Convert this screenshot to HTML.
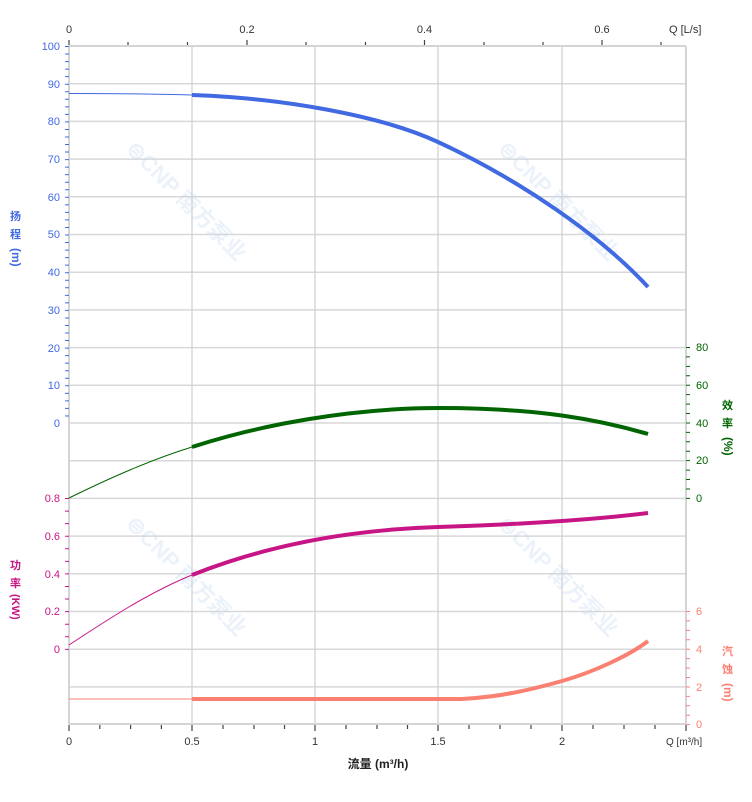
<!DOCTYPE html>
<html><head><meta charset="utf-8"><style>
body{margin:0;background:#fff}
svg text{font-family:"Liberation Sans","Noto Sans CJK SC",sans-serif;font-size:11px}
</style></head><body>
<svg width="752" height="797" viewBox="0 0 752 797" xmlns="http://www.w3.org/2000/svg">
<g stroke="#d8d8d8" stroke-width="1.5">
<line x1="69" y1="83.7" x2="686" y2="83.7"/><line x1="69" y1="121.4" x2="686" y2="121.4"/><line x1="69" y1="159.1" x2="686" y2="159.1"/><line x1="69" y1="196.8" x2="686" y2="196.8"/><line x1="69" y1="234.5" x2="686" y2="234.5"/><line x1="69" y1="272.2" x2="686" y2="272.2"/><line x1="69" y1="309.9" x2="686" y2="309.9"/><line x1="69" y1="347.6" x2="686" y2="347.6"/><line x1="69" y1="385.3" x2="686" y2="385.3"/><line x1="69" y1="423" x2="686" y2="423"/><line x1="69" y1="460.7" x2="686" y2="460.7"/><line x1="69" y1="498.4" x2="686" y2="498.4"/><line x1="69" y1="536.1" x2="686" y2="536.1"/><line x1="69" y1="573.8" x2="686" y2="573.8"/><line x1="69" y1="611.5" x2="686" y2="611.5"/><line x1="69" y1="649.2" x2="686" y2="649.2"/><line x1="69" y1="686.9" x2="686" y2="686.9"/>
</g>
<g stroke="#cfcfcf" stroke-width="1.2">
<line x1="192" y1="46" x2="192" y2="724"/><line x1="315" y1="46" x2="315" y2="724"/><line x1="438" y1="46" x2="438" y2="724"/><line x1="562" y1="46" x2="562" y2="724"/>
</g>
<g stroke="#d4d4d4" stroke-width="2" fill="none">
<line x1="69" y1="46" x2="686" y2="46"/><line x1="69" y1="724" x2="686" y2="724"/><line x1="69" y1="46" x2="69" y2="724"/><line x1="686" y1="46" x2="686" y2="724"/>
</g>
<g fill="#bcd3ee" opacity="0.3" font-weight="bold">
<text transform="translate(125,150) rotate(45)" style="font-size:22px">⊜CNP 南方泵业</text>
<text transform="translate(497,150) rotate(45)" style="font-size:22px">⊜CNP 南方泵业</text>
<text transform="translate(125,525) rotate(45)" style="font-size:22px">⊜CNP 南方泵业</text>
<text transform="translate(497,525) rotate(45)" style="font-size:22px">⊜CNP 南方泵业</text>
</g>
<line x1="67" y1="46" x2="67" y2="423" stroke="#4169e1" stroke-width="4" stroke-dasharray="1 6.54"/>
<line x1="67" y1="498" x2="67" y2="650" stroke="#c71585" stroke-width="4" stroke-dasharray="1 11.57"/>
<line x1="688" y1="347" x2="688" y2="499" stroke="#006400" stroke-width="4" stroke-dasharray="1 8.43"/>
<line x1="688" y1="611" x2="688" y2="725" stroke="#fa8072" stroke-width="4" stroke-dasharray="1 8.43"/>
<g stroke="#444" stroke-width="1.2">
<line x1="69" y1="725" x2="69" y2="731"/><line x1="99.8" y1="725" x2="99.8" y2="729"/><line x1="130.6" y1="725" x2="130.6" y2="729"/><line x1="161.4" y1="725" x2="161.4" y2="729"/><line x1="192" y1="725" x2="192" y2="731"/><line x1="223" y1="725" x2="223" y2="729"/><line x1="254" y1="725" x2="254" y2="729"/><line x1="284.5" y1="725" x2="284.5" y2="729"/><line x1="315" y1="725" x2="315" y2="731"/><line x1="346" y1="725" x2="346" y2="729"/><line x1="377" y1="725" x2="377" y2="729"/><line x1="407.5" y1="725" x2="407.5" y2="729"/><line x1="438" y1="725" x2="438" y2="731"/><line x1="469" y1="725" x2="469" y2="729"/><line x1="500" y1="725" x2="500" y2="729"/><line x1="531" y1="725" x2="531" y2="729"/><line x1="562" y1="725" x2="562" y2="731"/><line x1="593" y1="725" x2="593" y2="729"/><line x1="624" y1="725" x2="624" y2="729"/><line x1="655" y1="725" x2="655" y2="729"/><line x1="686" y1="725" x2="686" y2="731"/>
<line x1="69" y1="40" x2="69" y2="45"/><line x1="128" y1="42" x2="128" y2="45"/><line x1="187.5" y1="42" x2="187.5" y2="45"/><line x1="247" y1="40" x2="247" y2="45"/><line x1="306" y1="42" x2="306" y2="45"/><line x1="365.5" y1="42" x2="365.5" y2="45"/><line x1="424.5" y1="40" x2="424.5" y2="45"/><line x1="484" y1="42" x2="484" y2="45"/><line x1="543" y1="42" x2="543" y2="45"/><line x1="602" y1="40" x2="602" y2="45"/><line x1="661" y1="42" x2="661" y2="45"/>
</g>
<g fill="none" stroke-linecap="butt">
<path d="M69,93.5 C120,93.5 160,94 192,95" stroke="#4169e1" stroke-width="1"/>
<path d="M192,95 C280,98 380,115 438,142 C520,180 600,235 648,287" stroke="#4169e1" stroke-width="4"/>
<path d="M69,498 C110,478 150,460 192,447" stroke="#006400" stroke-width="1"/>
<path d="M192,447 C260,425 350,408 440,408 C540,408 600,420 648,434" stroke="#006400" stroke-width="4"/>
<path d="M69,645 C110,618 150,592 192,575" stroke="#c71585" stroke-width="1"/>
<path d="M192,575 C260,548 340,530 438,527 C530,524 600,519 648,513" stroke="#c71585" stroke-width="4"/>
<path d="M69,699 L192,699" stroke="#fa8072" stroke-width="1"/>
<path d="M192,699 L462,699 C500,697 530,690 562,681 S630,655 648,641" stroke="#fa8072" stroke-width="4"/>
</g>
<g fill="#4169e1" text-anchor="end">
<text x="60" y="50">100</text><text x="60" y="88">90</text><text x="60" y="125">80</text><text x="60" y="163">70</text><text x="60" y="201">60</text><text x="60" y="238">50</text><text x="60" y="276">40</text><text x="60" y="314">30</text><text x="60" y="352">20</text><text x="60" y="389">10</text><text x="60" y="427">0</text>
</g>
<g fill="#c71585" text-anchor="end">
<text x="60" y="502">0.8</text><text x="60" y="540">0.6</text><text x="60" y="578">0.4</text><text x="60" y="615">0.2</text><text x="60" y="653">0</text>
</g>
<g fill="#006400"><text x="696" y="351">80</text><text x="696" y="389">60</text><text x="696" y="427">40</text><text x="696" y="464">20</text><text x="696" y="502">0</text></g>
<g fill="#fa8072"><text x="696" y="615">6</text><text x="696" y="653">4</text><text x="696" y="691">2</text><text x="696" y="728">0</text></g>
<g fill="#333" text-anchor="middle">
<text x="69" y="745">0</text><text x="192" y="745">0.5</text><text x="315" y="745">1</text><text x="438" y="745">1.5</text><text x="562" y="745">2</text>
<text x="69" y="33">0</text><text x="247" y="33">0.2</text><text x="424.5" y="33">0.4</text><text x="602" y="33">0.6</text>
</g>
<text x="669" y="33" fill="#333">Q [L/s]</text>
<text x="666" y="745" fill="#333" style="font-size:10px">Q [m³/h]</text>
<text x="378" y="768" text-anchor="middle" fill="#222" style="font-size:12px;font-weight:bold">流量 (m³/h)</text>
<g font-weight="bold" style="font-size:14px">
<text x="10" y="220" fill="#4169e1">扬</text><text x="10" y="238" fill="#4169e1">程</text>
<text transform="translate(12,248) rotate(90)" fill="#4169e1" style="font-size:12px">(m)</text>
<text x="10" y="569" fill="#c71585">功</text><text x="10" y="587" fill="#c71585">率</text>
<text transform="translate(12,594) rotate(90)" fill="#c71585" style="font-size:11px">(KW)</text>
<text x="722" y="409" fill="#006400">效</text><text x="722" y="427" fill="#006400">率</text>
<text transform="translate(724,437) rotate(90)" fill="#006400" style="font-size:12px">(%)</text>
<text x="722" y="655" fill="#fa8072">汽</text><text x="722" y="673" fill="#fa8072">蚀</text>
<text transform="translate(724,683) rotate(90)" fill="#fa8072" style="font-size:12px">(m)</text>
</g>
</svg>
</body></html>
